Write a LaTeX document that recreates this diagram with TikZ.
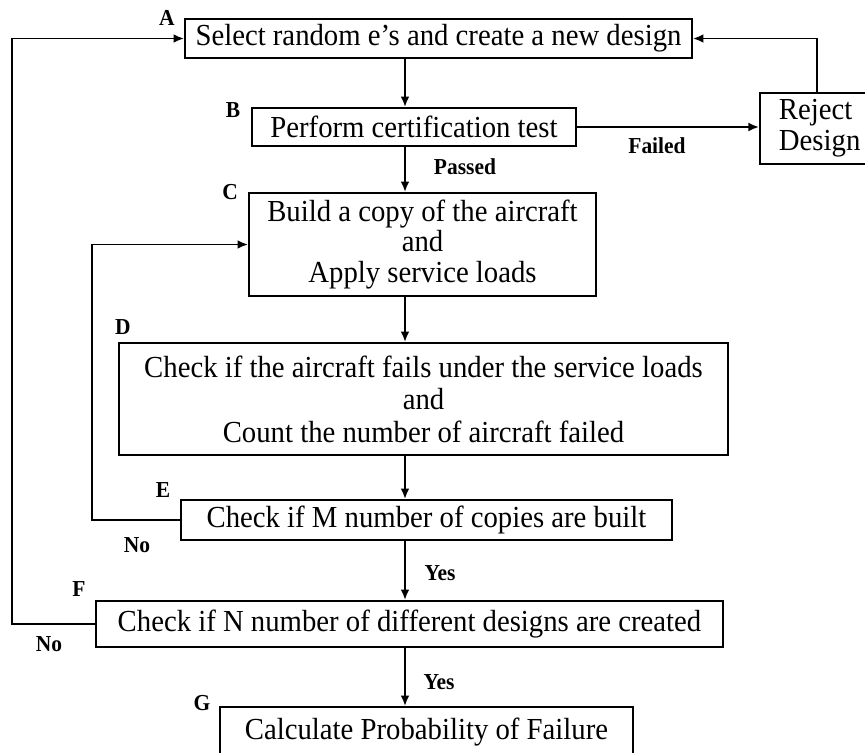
\documentclass[tikz,border=0pt]{standalone}
\usepackage{fontspec}
\setmainfont{Liberation Serif}[FakeStretch=0.94]
\usetikzlibrary{arrows.meta}
\newcommand{\boxfont}{\fontsize{17.4}{17.5}\selectfont}
\newcommand{\tagfont}{\bfseries\fontsize{13}{14}\selectfont}
\begin{document}
\begin{tikzpicture}[x=0.02cm,y=-0.02cm,line width=1.1pt,>={Latex[length=6pt,width=5pt]},
	box/.style={draw,inner sep=0pt,align=center,font=\boxfont},
	tag/.style={font=\tagfont}]
	\useasboundingbox (0,0) rectangle (865,752);
	\clip (0,0) rectangle (865,752);
	\coordinate (spine) at (405,0);\coordinate (outer) at (12,0);\coordinate (inner) at (92,0);
	\coordinate (rise) at (817,0);
	\node[box,minimum width=10.14cm,minimum height=0.78cm] (A) at (438.5,38.5) {Select random e's and create a new design};
	\node[box,minimum width=6.48cm,minimum height=0.76cm] (B) at (414,127) {Perform certification test};
	\node[box,anchor=west,text width=2.5cm,align=left,inner xsep=0.38cm,minimum height=1.42cm] (R) at (759,128.5) {Reject\\Design};
	\node[box,minimum width=6.94cm,minimum height=2.06cm] (C) at (422.5,244.5) {Build a copy of the aircraft\\and\\Apply service loads};
	\node[box,minimum width=12.18cm,minimum height=2.24cm] (D) at (423.5,399) {Check if the aircraft fails under the service loads\\[1pt]and\\[1pt]Count the number of aircraft failed};
	\node[box,minimum width=9.82cm,minimum height=0.80cm] (E) at (426.5,520) {Check if M number of copies are built};
	\node[box,minimum width=12.54cm,minimum height=0.92cm] (F) at (409.5,624) {Check if N number of different designs are created};
	\node[box,minimum width=8.26cm,minimum height=1.0cm] (G) at (426.5,732) {Calculate Probability of Failure};
	\foreach\i/\x/\y in {A/167/18,B/233/110,C/230/192,D/123/327,E/163/490,F/79/589,G/202/703}\node[tag] (tag\i) at (\x,\y) {\i};
	\node[tag] (failed) at (657,146) {Failed};\node[tag] (passed) at (465,167) {Passed};
	\node[tag] (yesE) at (440,573) {Yes};\node[tag] (yesF) at (439,682) {Yes};
	\node[tag] (noE) at (137,545) {No};\node[tag] (noF) at (49,644) {No};
	\draw[->] (A.south-|spine)--(B.north-|spine);\draw[->] (B.south-|spine)--(C.north-|spine);
	\draw[->] (C.south-|spine)--(D.north-|spine);\draw[->] (D.south-|spine)--(E.north-|spine);
	\draw[->] (E.south-|spine)--(F.north-|spine);\draw[->] (F.south-|spine)--(G.north-|spine);
	\draw[->] (B.east)--(B.east-|R.west);
	\draw[->] (R.north-|rise)--(rise|-A.east)--(A.east);
	\draw[->] (E.west)--(E.west-|inner)--(inner|-C.west)--(C.west);
	\draw[->] (F.west)--(F.west-|outer)--(outer|-A.west)--(A.west);
\end{tikzpicture}
\end{document}
